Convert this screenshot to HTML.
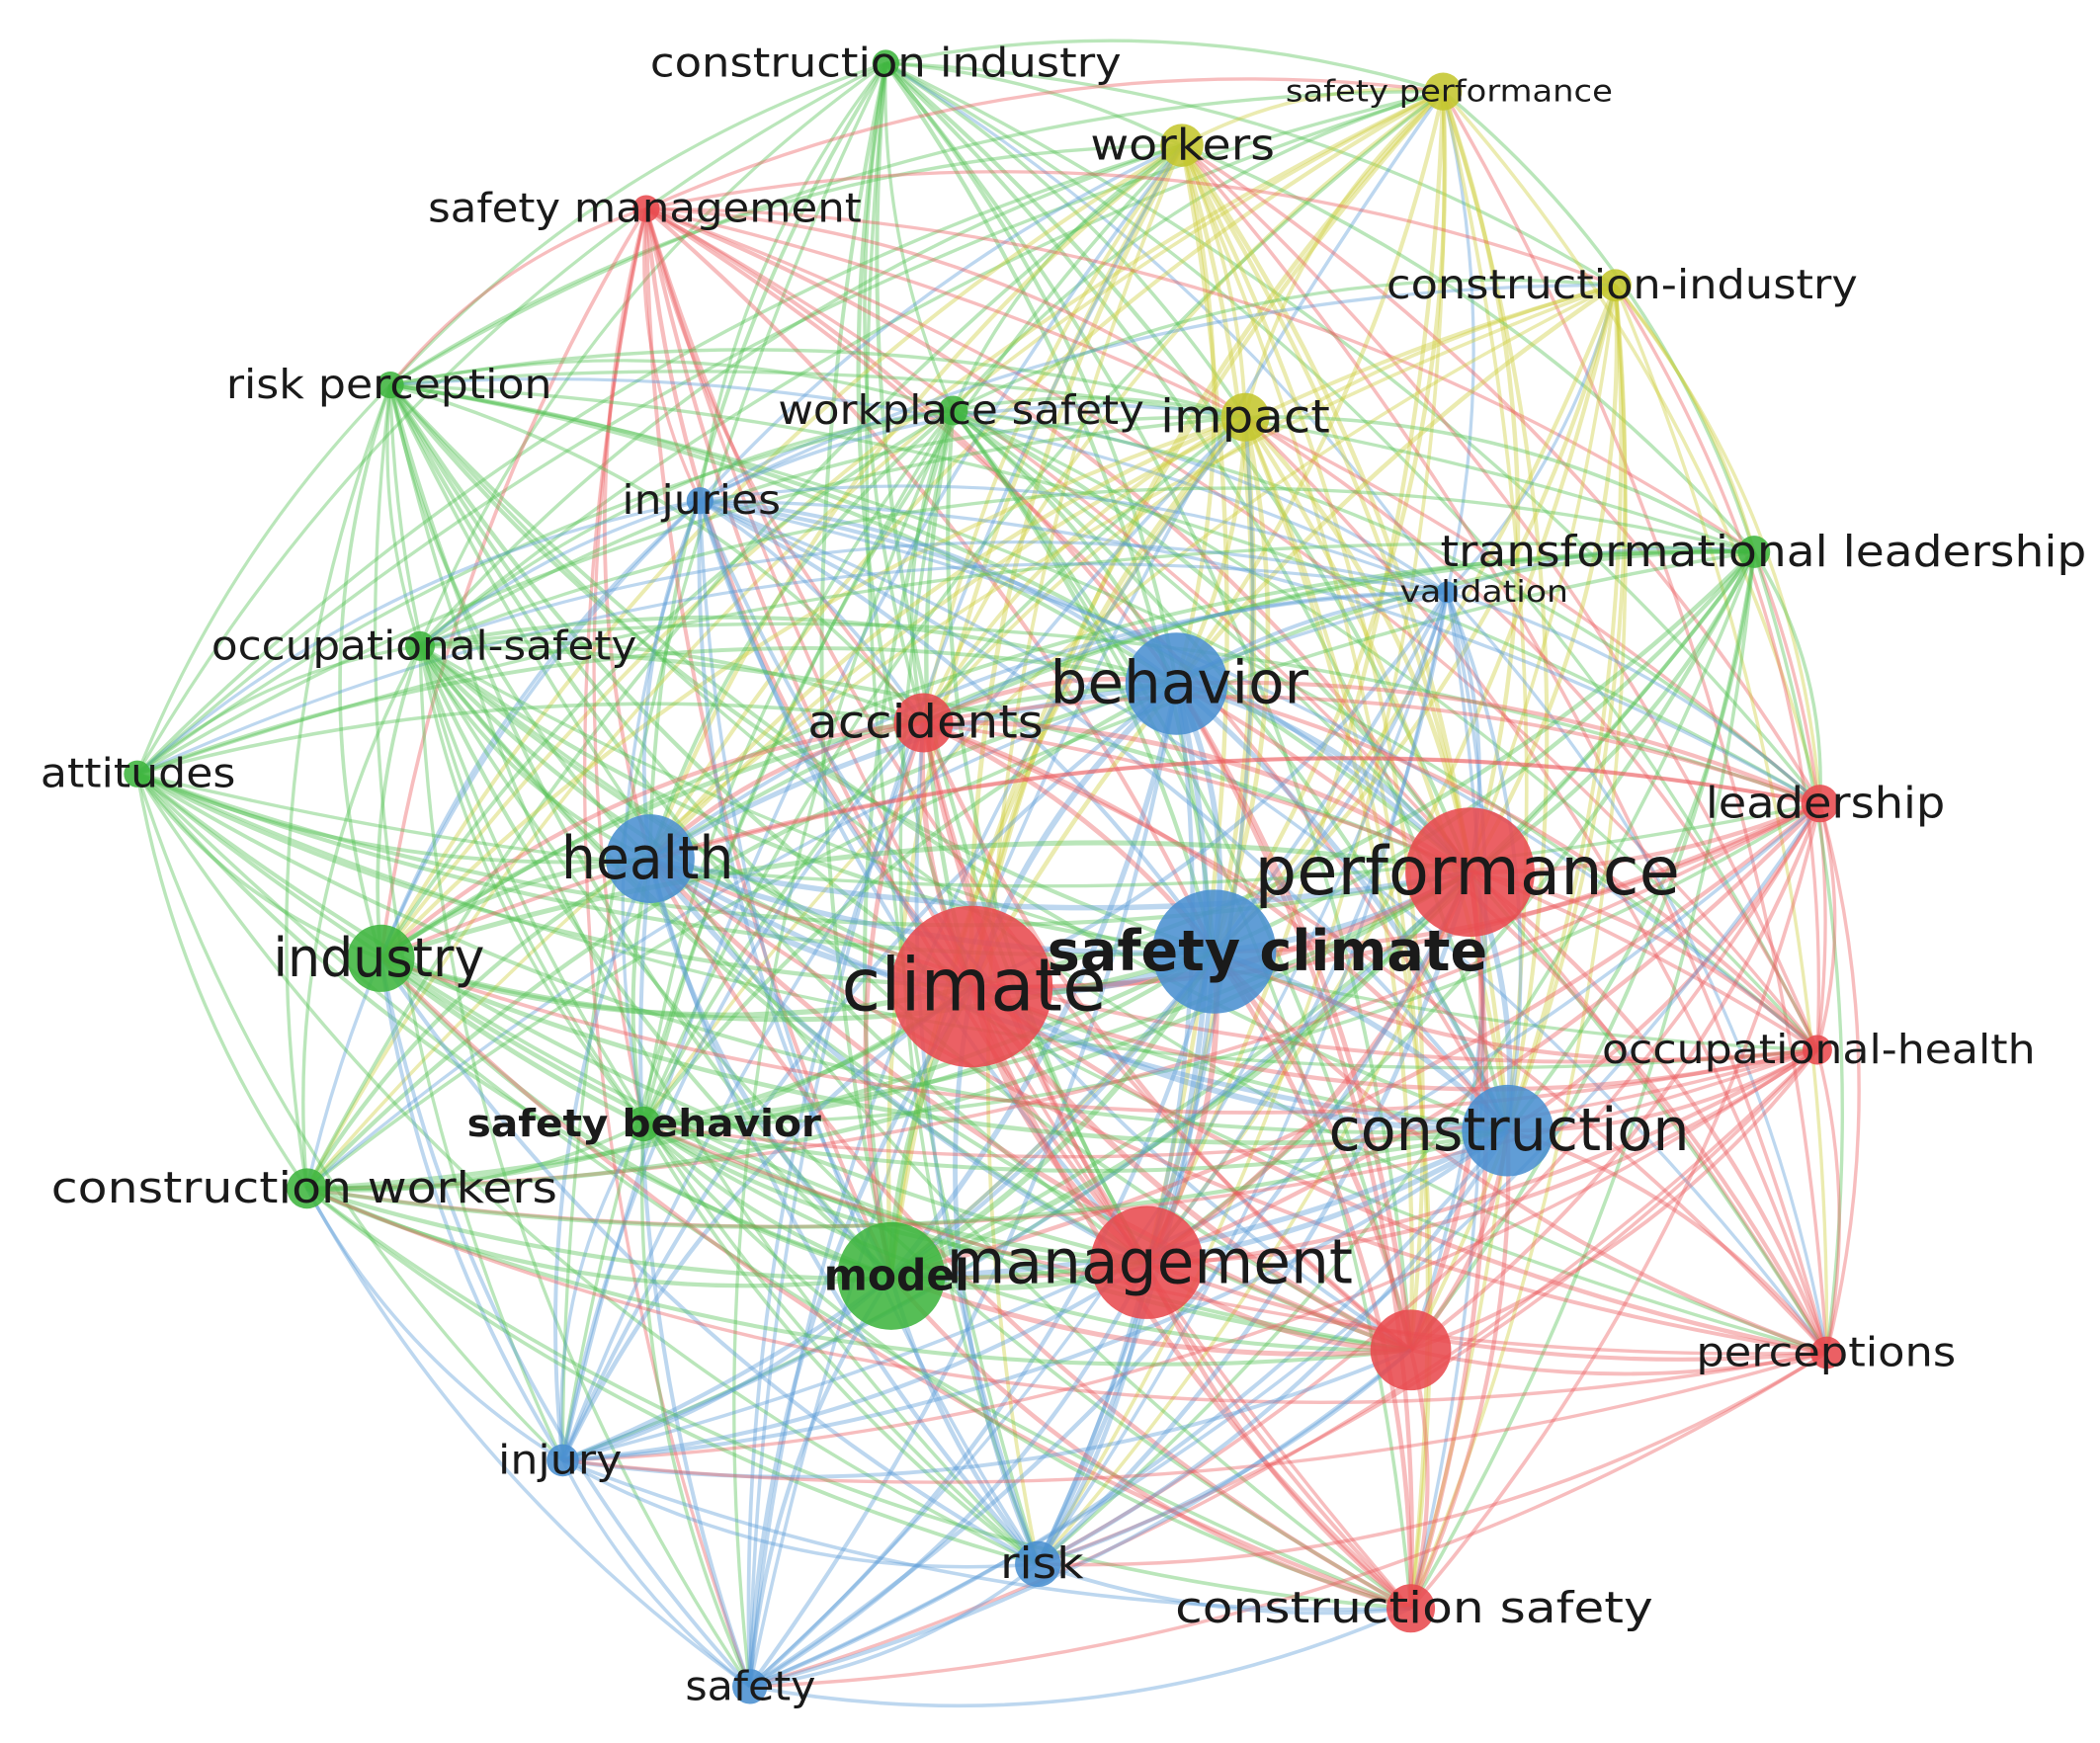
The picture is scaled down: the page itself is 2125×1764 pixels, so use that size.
<!DOCTYPE html>
<html><head><meta charset="utf-8"><style>
html,body{margin:0;padding:0;background:#fff;}
svg{display:block;}
text{font-family:"DejaVu Sans","Liberation Sans",sans-serif;fill:#1a1a1a;}
</style></head><body>
<svg id="s" width="2125" height="1764" viewBox="0 0 1560 1295" xmlns="http://www.w3.org/2000/svg">
<g id="edges" fill="none"></g><g id="nodes"></g><g id="labels"></g>
</svg>
<script>
var C={r:"#ec5a5c",g:"#52c152",b:"#5a9bd8",y:"#cccc3a"};
var NC={r:"#e84a4e",g:"#3fb53f",b:"#4a90d0",y:"#c4c62e"};
var N=[
["construction industry",658,47,10,"g",483,833,30,0],
["safety performance",1072,68,14,"y",955,1198,22,1],
["workers",878,108,16,"y",810,947,32,0],
["safety management",480,155,10,"r",318,640,30,0],
["construction-industry",1200,212,12,"y",1030,1380,30,0],
["risk perception",290,286,10,"g",168,410,30,0],
["workplace safety",708,305,11,"g",578,850,30,0],
["impact",925,310,18,"y",862,988,34,0],
["injuries",520,372,10,"b",462,580,30,0],
["transformational leadership",1303,410,12,"g",1070,1550,32,0],
["validation",1075,440,8,"b",1040,1165,22,1],
["occupational-safety",312,480,11,"g",157,473,30,0],
["behavior",874,508,38,"b",780,972,44,0],
["accidents",686,537,22,"r",600,775,34,0],
["attitudes",102,575,10,"g",30,175,30,0],
["leadership",1352,597,14,"r",1267,1445,32,0],
["health",483,638,33,"b",417,545,44,0],
["performance",1092,648,48,"r",932,1248,50,0],
["safety climate",902,707,46,"b",778,1105,42,2],
["climate",722,733,60,"r",625,822,54,0],
["industry",283,712,25,"g",203,360,40,0],
["occupational-health",1350,780,11,"r",1190,1512,30,0],
["construction",1120,840,34,"b",987,1255,44,0],
["safety behavior",478,835,13,"g",347,610,28,2],
["construction workers",228,883,15,"g",38,414,32,0],
["model",662,948,40,"g",612,720,32,2],
["management",852,938,42,"r",703,1005,46,0],
["",1048,1003,30,"r",0,0,0,0],
["perceptions",1357,1005,12,"r",1260,1453,30,0],
["injury",418,1085,12,"b",370,462,30,0],
["risk",771,1162,17,"b",743,805,32,0],
["construction safety",1048,1195,18,"r",873,1228,32,0],
["safety",557,1253,13,"b",509,606,30,0]
];
var ns="http://www.w3.org/2000/svg";
function el(t,a,p){var e=document.createElementNS(ns,t);for(var k in a)e.setAttribute(k,a[k]);p.appendChild(e);return e;}
var E=document.getElementById("edges"),G=document.getElementById("nodes"),L=document.getElementById("labels");
var seed=11;function rnd(){seed=(seed*16807)%2147483647;return seed/2147483647;}
for(var i=0;i<N.length;i++)for(var j=i+1;j<N.length;j++){
 var a=N[i],b=N[j];var w=Math.sqrt(a[3]*b[3]);
 if(rnd()>0.5+w/45)continue;
 var src=a[3]<=b[3]?a:b;
 var mx=(a[1]+b[1])/2,my=(a[2]+b[2])/2,dx=b[1]-a[1],dy=b[2]-a[2];
 var k=0.1+0.06*rnd();
 var cx=mx-dy*k,cy=my+dx*k;
 var d1=(cx-760)*(cx-760)+(cy-650)*(cy-650),d0=(mx-760)*(mx-760)+(my-650)*(my-650);
 if(d1<d0){cx=mx+dy*k;cy=my-dx*k;}
 el("path",{d:"M"+a[1]+","+a[2]+" Q"+cx+","+cy+" "+b[1]+","+b[2],stroke:C[src[4]],"stroke-width":(1.8+w/18).toFixed(2),"stroke-opacity":0.4},E);
}
N.forEach(function(n){
 el("circle",{cx:n[1],cy:n[2],r:n[3],fill:NC[n[4]],"fill-opacity":0.88},G);
});
N.forEach(function(n){
 if(!n[0])return;
 var fs=n[7];var t=el("text",{x:n[5],y:n[2]+fs*0.33,"font-size":fs,textLength:n[6]-n[5],lengthAdjust:"spacingAndGlyphs"},L);
 if(n[8]==1){t.setAttribute("font-family","DejaVu Sans Mono, Liberation Mono, monospace");}
 if(n[8]==2){t.setAttribute("font-weight","bold");}
 t.textContent=n[0];
});
</script>
</body></html>
